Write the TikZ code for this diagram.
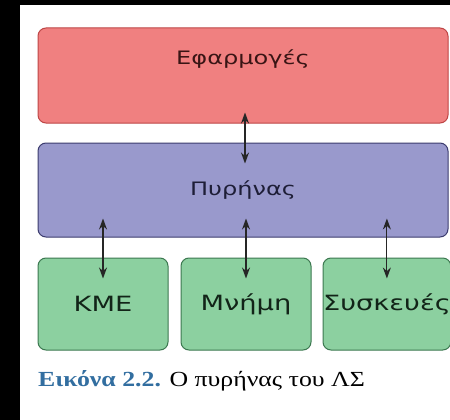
\documentclass[tikz,border=0pt]{standalone}
\usepackage{fontspec}
\setmainfont{Liberation Serif}[FakeStretch=1.2]
\setsansfont{DejaVu Sans}[FakeStretch=1.3]
\usetikzlibrary{positioning,arrows.meta}
\definecolor{appfill}{RGB}{240,128,128}
\definecolor{appdraw}{RGB}{190,70,70}
\definecolor{krnfill}{RGB}{153,153,204}
\definecolor{krndraw}{RGB}{60,60,110}
\definecolor{hwfill}{RGB}{140,208,160}
\definecolor{hwdraw}{RGB}{60,120,80}
\definecolor{capblue}{RGB}{50,110,160}

\begin{document}
\begin{tikzpicture}[x=1pt, y=1pt, font=\sffamily\fontsize{18.5}{22}\selectfont,
	layer/.style={rectangle, rounded corners=8pt, line width=1pt, inner sep=0pt},
	appbox/.style={layer, draw=appdraw, fill=appfill, text=appdraw!30!black, minimum width=410pt, minimum height=95pt},
	krnbox/.style={layer, draw=krndraw, fill=krnfill, text=krndraw!50!black, minimum width=410pt, minimum height=94pt},
	hwbox/.style={layer, draw=hwdraw, fill=hwfill, text=hwdraw!30!black, minimum height=92pt,
	              font=\sffamily\fontsize{21}{24}\selectfont},
	link/.style={<->, >={Stealth[length=11pt, width=8pt]}, line width=1.2pt, black!85},]
	 \useasboundingbox (0,0) rectangle (450,-420);
	 \fill[black] (0,0) rectangle (450,-420);
	 \fill[white] (20,-5) rectangle (450,-420);

	 \node[appbox, label={[yshift=16pt, text=appdraw!30!black]center:Εφαρμογές}] (apps) at (243,-75.5) {};
	 \node[krnbox, below=19pt of apps] (kernel) {Πυρήνας};
	 \node[hwbox, minimum width=130pt, below=20pt of kernel.south west, anchor=north west] (cpu) {ΚΜΕ};
	 \node[hwbox, minimum width=130pt, right=12pt of cpu] (mem) {Μνήμη};
	 \node[hwbox, minimum width=125pt, right=11pt of mem] (dev) {Συσκευές};

	 \draw[link] ([xshift=2pt, yshift=11pt]apps.south) -- ([xshift=2pt, yshift=-21pt]kernel.north);
	 \draw[link] ([yshift=19pt]kernel.south -| cpu.center) -- ([yshift=-21pt]cpu.north);
	 \draw[link] ([yshift=19pt]kernel.south -| mem.center) -- ([yshift=-21pt]mem.north);
	 \draw[link] ([yshift=19pt]kernel.south -| dev.center) -- ([yshift=-21pt]dev.north);

	 % caption
	 \node[anchor=west, inner sep=0pt, font=\rmfamily\fontsize{21.5}{24}\selectfont] (caption) at (38,-381)
	  {\textcolor{capblue}{\bfseries Εικόνα 2.2.} Ο πυρήνας του ΛΣ};
\end{tikzpicture}
\end{document}
